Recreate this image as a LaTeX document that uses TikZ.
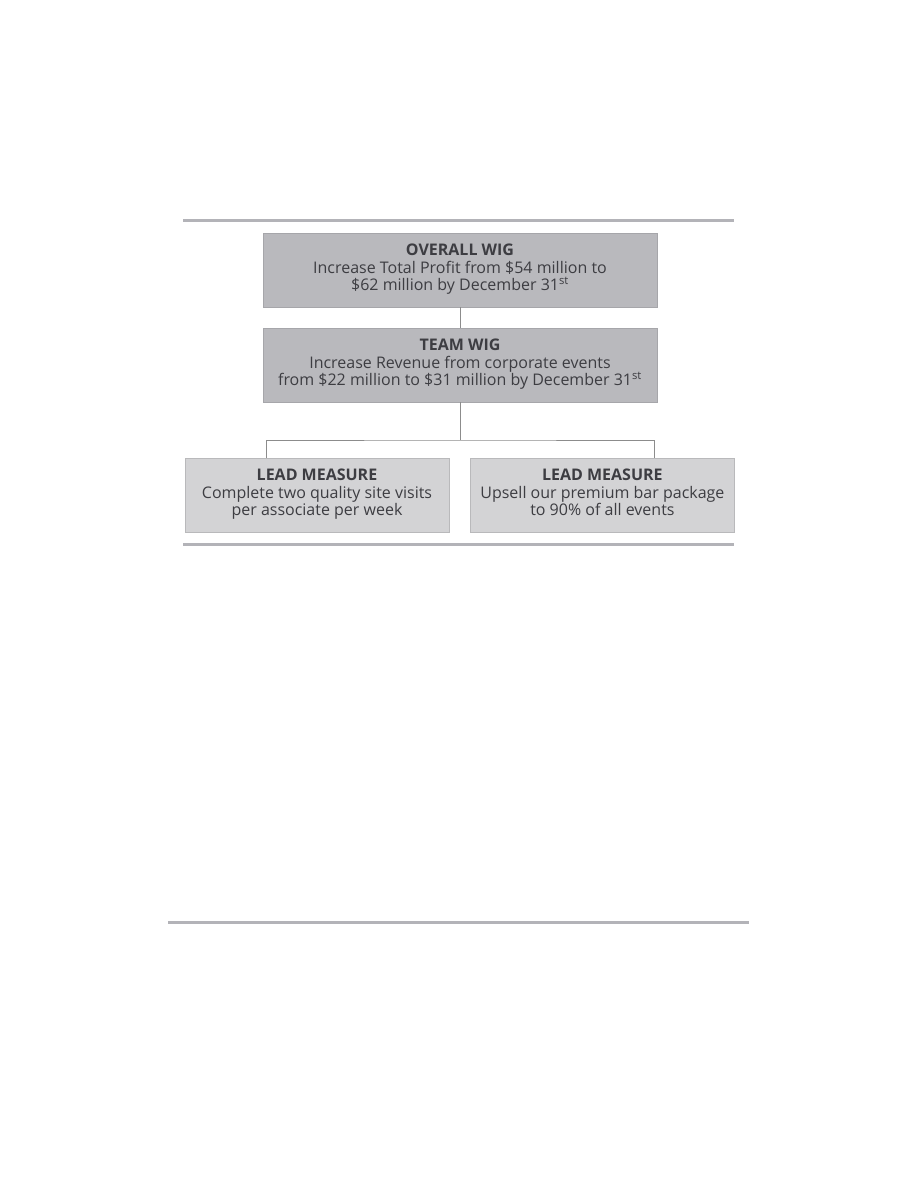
\documentclass[tikz,border=0pt]{standalone}
\usepackage{fontspec}
\setmainfont{Open Sans}
\usetikzlibrary{positioning}
\definecolor{wigfill}{HTML}{B9B9BD}
\definecolor{wigline}{HTML}{A6A6AA}
\definecolor{leadfill}{HTML}{D3D3D5}
\definecolor{leadline}{HTML}{B9B9BB}
\definecolor{rulegray}{HTML}{B3B3B8}
\definecolor{inkgray}{HTML}{3D3D42}
\begin{document}
\begin{tikzpicture}[x=1pt,y=-1pt,
  wig/.style={draw=wigline,fill=wigfill,minimum width=394pt,minimum height=74pt,
    align=center,inner sep=0pt,text=inkgray,font=\fontsize{16}{17.5}\selectfont},
  lead/.style={wig,draw=leadline,fill=leadfill,minimum width=264pt},
  link/.style={draw=black!45,line width=0.9pt},
  hrule/.style={draw=rulegray,line width=3pt}]
\useasboundingbox (0,0) rectangle (918,1188);
	\node[wig] (overall) at (460,270) {{\bfseries OVERALL WIG}\\
    	Increase Total Profit from \$54 million to\\
        \$62 million by December 31\textsuperscript{st}\strut};
	\node[wig,below=20.5pt of overall] (team) {{\bfseries TEAM WIG}\\
    	Increase Revenue from corporate events\\
        from \$22 million to \$31 million by December 31\textsuperscript{st}\strut};
	\node[lead] (lead1) at (317,495) {{\bfseries LEAD MEASURE}\\
    	Complete two quality site visits\\
        per associate per week\strut};
	\node[lead,right=21pt of lead1] (lead2) {{\bfseries LEAD MEASURE}\\
    	Upsell our premium bar package\\
        to 90\% of all events\strut};
	\coordinate (split) at (460,440);
	\coordinate (leftfoot) at (266,458);
	\coordinate (rightfoot) at (654,458);
\draw[link] (overall) -- (team);
\draw[link] (team.south) -- (split);
\draw[link] (leftfoot) |- (split) -| (rightfoot);
\draw[hrule] (183,220) -- (734,220);
\draw[hrule] (183,544.5) -- (734,544.5);
\draw[hrule] (168,922) -- (749,922);
	\end{tikzpicture}
\end{document}
